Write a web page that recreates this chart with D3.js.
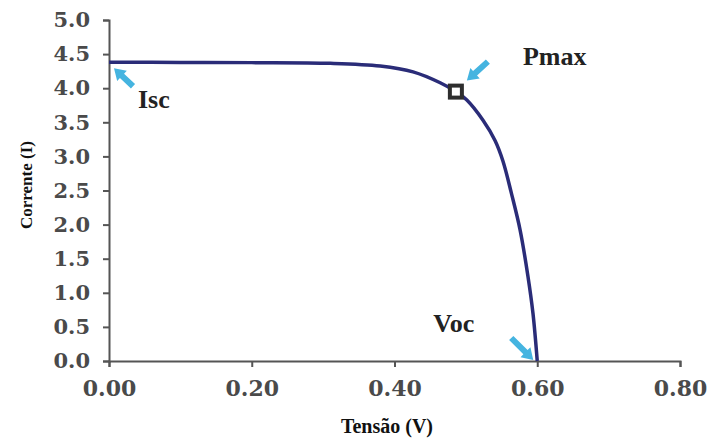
<!DOCTYPE html>
<html>
<head>
<meta charset="utf-8">
<script src="https://cdn.jsdelivr.net/npm/d3@7"></script>
<style>
  body { margin: 0; background: #fff; }
  .tick text { font-family: "DejaVu Serif", serif; font-weight: bold; fill: #4a4a4a; }
  .axis path, .axis line { stroke: #555; stroke-width: 2; }
  .note { font-family: "Liberation Serif", serif; font-weight: bold; fill: #222; font-size: 26px; }
  .axis-title { font-family: "Liberation Serif", serif; font-weight: bold; fill: #111; }
</style>
</head>
<body>
<svg width="711" height="439"></svg>
<script>
// I-V curve
var voltage = [0, 0.10, 0.20, 0.31, 0.38, 0.426, 0.464, 0.486, 0.501, 0.524, 0.541, 0.552, 0.564, 0.576, 0.587, 0.594, 0.60];
var current = [4.38, 4.378, 4.375, 4.365, 4.325, 4.24, 4.08, 3.95, 3.83, 3.53, 3.23, 2.93, 2.45, 1.92, 1.24, 0.70, 0];
var xTicks = [0, 0.2, 0.4, 0.6, 0.8];
var yTicks = [0, 0.5, 1.0, 1.5, 2.0, 2.5, 3.0, 3.5, 4.0, 4.5, 5.0];
var pmax = {v: 0.486, i: 3.95};
var notes = ['Isc', 'Pmax', 'Voc'];

var svg = d3.select('svg');
var margin = {top: 20, right: 31, bottom: 78, left: 109}
  , width = svg.attr('width') - margin.left - margin.right
  , height = svg.attr('height') - margin.top - margin.bottom;

var data = voltage.map(function(v, k) { return {v: v, i: current[k]}; });

var xScale = d3.scaleLinear().domain([0, 0.8]).range([0, width]);
var yScale = d3.scaleLinear().domain([0, 5]).range([height, 0]);

var g = svg.append('g')
    .attr('transform', 'translate(' + margin.left + ',' + margin.top + ')');

// x axis
var xAxis = g.append('g')
    .attr('class', 'x axis')
    .attr('transform', 'translate(0,' + height + ')')
    .call(d3.axisBottom(xScale).tickValues(xTicks).tickFormat(d3.format('.2f'))
      .tickSize(6).tickPadding(13));
xAxis.selectAll('text').style('font-size', '22px');

// y axis
var yAxis = g.append('g')
    .attr('class', 'y axis')
    .call(d3.axisLeft(yScale).tickValues(yTicks).tickFormat(d3.format('.1f'))
      .tickSize(6).tickPadding(13));
yAxis.selectAll('text').style('font-size', '21px');
svg.selectAll('.domain').attr('fill', 'none');

// axis titles
svg.append('text')
    .attr('class', 'axis-title')
    .attr('x', 387)
    .attr('y', 433)
    .attr('text-anchor', 'middle')
    .style('font-size', '20px')
    .text('Tensão (V)');

svg.append('text')
    .attr('class', 'axis-title')
    .attr('transform', 'translate(32,185) rotate(-90)')
    .attr('text-anchor', 'middle')
    .style('font-size', '17px')
    .text('Corrente (I)');

// the curve
var line = d3.line()
    .x(function(d) { return xScale(d.v); })
    .y(function(d) { return yScale(d.i); })
    .curve(d3.curveCatmullRom.alpha(0.5));

g.append('path')
    .datum(data)
    .attr('d', line)
    .attr('fill', 'none')
    .attr('stroke', '#2a2c78')
    .attr('stroke-width', 3.5);

// Pmax marker
g.append('rect')
    .attr('x', xScale(pmax.v) - 6)
    .attr('y', yScale(pmax.i) - 6)
    .attr('width', 12)
    .attr('height', 12)
    .attr('fill', '#fff')
    .attr('stroke', '#2e2e2e')
    .attr('stroke-width', 4);

// arrows + labels, offsets from the point they point at
var anchors = [
  {p: data[0], tip: [5, 6], tail: [24, 24], txt: [29, 46]},
  {p: pmax, tip: [11, -11], tail: [32, -30], txt: [67, -27]},
  {p: data[data.length - 1], tip: [-4, -1], tail: [-26, -23], txt: [-104, -29]}
];

function arrowPath(x1, y1, x2, y2) {
  // from tail (x1,y1) to tip (x2,y2)
  var dx = x2 - x1, dy = y2 - y1, len = Math.sqrt(dx * dx + dy * dy);
  var ux = dx / len, uy = dy / len, nx = -uy, ny = ux;
  var hl = 11, hw = 7, sw = 3;
  var bx = x2 - ux * hl, by = y2 - uy * hl;
  var pts = [
    [x1 + nx * sw, y1 + ny * sw],
    [bx + nx * sw, by + ny * sw],
    [bx + nx * hw, by + ny * hw],
    [x2, y2],
    [bx - nx * hw, by - ny * hw],
    [bx - nx * sw, by - ny * sw],
    [x1 - nx * sw, y1 - ny * sw]
  ];
  return 'M' + pts.map(function(p) { return p.join(','); }).join('L') + 'Z';
}

anchors.forEach(function(a, k) {
  var px = xScale(a.p.v), py = yScale(a.p.i);
  g.append('path')
      .attr('d', arrowPath(px + a.tail[0], py + a.tail[1], px + a.tip[0], py + a.tip[1]))
      .attr('fill', '#45b4e0');
  g.append('text')
      .attr('class', 'note')
      .attr('x', px + a.txt[0])
      .attr('y', py + a.txt[1])
      .text(notes[k]);
});
</script>
</body>
</html>
